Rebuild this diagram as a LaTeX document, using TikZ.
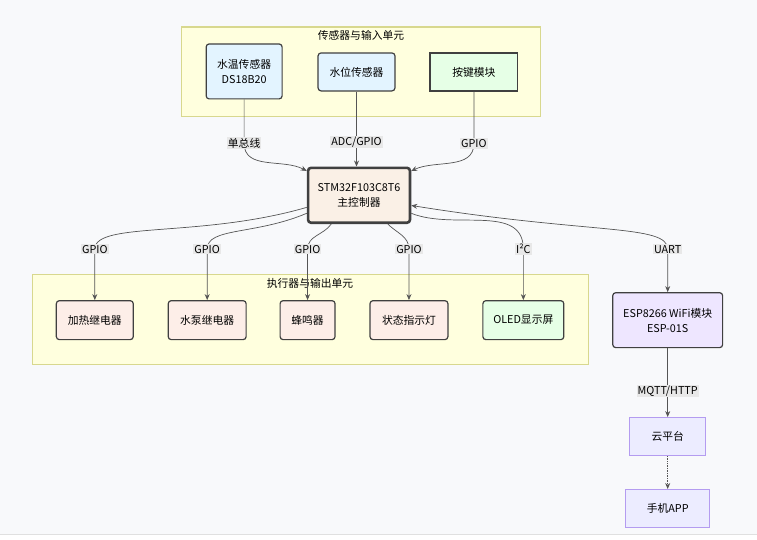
\documentclass[tikz,border=0pt]{standalone}
\usepackage{fontspec}
\setmainfont{Noto Sans CJK SC}
\usetikzlibrary{arrows.meta,calc}
\definecolor{bgcol}{HTML}{F8F9FB}
\definecolor{grpfill}{HTML}{FFFFDE}
\definecolor{grpline}{HTML}{D8D88E}
\definecolor{sensfill}{HTML}{E3F4FF}
\definecolor{greenfill}{HTML}{E6FFE6}
\definecolor{mcufill}{HTML}{FAF0E6}
\definecolor{actfill}{HTML}{FDEEE8}
\definecolor{wififill}{HTML}{EEE6FF}
\definecolor{cloudfill}{HTML}{ECECFF}
\definecolor{cloudline}{HTML}{B49CF0}
\definecolor{lblfill}{HTML}{E8E8E8}
\definecolor{edgecol}{HTML}{555555}
\begin{document}
\begin{tikzpicture}[x=1pt,y=-1pt,
  font=\fontsize{10.8}{15}\selectfont,
  group/.style={draw=grpline,fill=grpfill,line width=1.2pt},
  box/.style={draw=black!75,line width=1.2pt,rounded corners=3pt,align=center,inner sep=0pt},
  mcu/.style={box,line width=2.6pt,fill=mcufill},
  cloud/.style={draw=cloudline,fill=cloudfill,line width=1pt,align=center,inner sep=0pt},
  arr/.style={draw=edgecol,line width=0.7pt,-{Stealth[length=6pt,width=5pt]}},
  lbl/.style={fill=lblfill,inner sep=1pt}]
\fill[bgcol](0,0)rectangle(757,534.5);
\fill[white](0,534.5)rectangle(757,540);
\draw[black!12,line width=0.8pt](0,534.5)--(757,534.5);
\useasboundingbox(0,0)rectangle(757,540);
% groups
\draw[group](181,27)rectangle(541,117);
\node(intitle)at(361,35){传感器与输入单元};
\draw[group](32,275)rectangle(589,365);
\node(outtitle)at(310,284){执行器与输出单元};
% inputs
\node[box,fill=sensfill,minimum width=76pt,minimum height=55pt](temp)at(244,71.5){水温传感器\\DS18B20};
\node[box,fill=sensfill,minimum width=77pt,minimum height=38pt](level)at(356.5,72){水位传感器};
\node[box,fill=greenfill,rounded corners=0pt,minimum width=88pt,minimum height=38pt](key)at(474,72){按键模块};
% controller
\node[mcu,minimum width=102pt,minimum height=55pt](stm)at(359,195.5){STM32F103C8T6\\主控制器};
% outputs
\node[box,fill=actfill,minimum width=77pt,minimum height=39pt](heat)at(94.5,320.5){加热继电器};
\node[box,fill=actfill,minimum width=78pt,minimum height=39pt](pump)at(207,320.5){水泵继电器};
\node[box,fill=actfill,minimum width=55pt,minimum height=39pt](buzz)at(307.5,320.5){蜂鸣器};
\node[box,fill=actfill,minimum width=78pt,minimum height=39pt](led)at(409,320.5){状态指示灯};
\node[box,fill=greenfill,minimum width=81pt,minimum height=39pt](oled)at(523.5,320.5){OLED显示屏};
% wifi and cloud
\node[box,fill=wififill,minimum width=110pt,minimum height=55pt](esp)at(668,320.5){ESP8266 WiFi模块\\ESP-01S};
\node[cloud,minimum width=76pt,minimum height=38pt](cloud)at(668,437){云平台};
\node[cloud,minimum width=84pt,minimum height=38pt](app)at(668,509){手机APP};
% sensor edges
\draw[arr](temp.south)--($(temp.south)+(0,44)$)node[lbl](l1){单总线}to[out=-90,in=152](stm.155);
\draw[arr](level.south)--node[pos=0.67,lbl](l2){ADC/GPIO}(level.south|-stm.north);
\draw[arr](key.south)--($(key.south)+(0,52)$)node[lbl](l3){GPIO}to[out=-90,in=25](stm.25);
% output edges
\draw[arr](stm.193)..controls +(-107,31) and +(0,-28)..($(heat.north)+(0,-51)$)node[lbl](l4){GPIO}--(heat.north);
\draw[arr](stm.199)..controls +(-52,22) and +(0,-22)..($(pump.north)+(0,-51)$)node[lbl](l5){GPIO}--(pump.north);
\draw[arr](stm.226)to[out=235,in=90]($(buzz.north)+(0,-51)$)node[lbl](l6){GPIO}--(buzz.north);
\draw[arr](stm.315)to[out=-45,in=90]($(led.north)+(0,-51)$)node[lbl](l7){GPIO}--(led.north);
\draw[arr](stm.341)to[out=-22,in=90]($(oled.north)+(0,-51)$)node[lbl](l8){I²C}--(oled.north);
\draw[arr,{Stealth[length=6pt,width=5pt]}-{Stealth[length=6pt,width=5pt]}](stm.349)..controls +(180,29) and +(0,-25)..($(esp.north)+(0,-43)$)node[lbl](l9){UART}--(esp.north);
% cloud edges
\draw[arr](esp.south)--node[pos=0.62,lbl](l10){MQTT/HTTP}(cloud.north);
\draw[arr,densely dotted](cloud.south)--(app.north);
\end{tikzpicture}
\end{document}
